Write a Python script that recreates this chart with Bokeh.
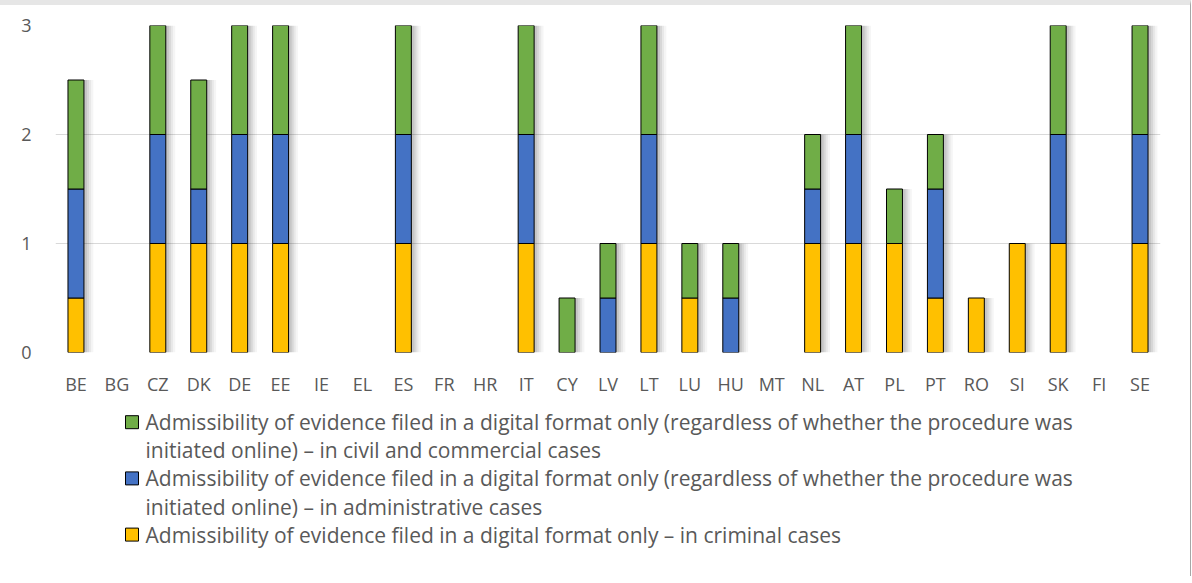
from bokeh.plotting import figure
from bokeh.layouts import column
from bokeh.models import ColumnDataSource, Range1d, FactorRange, SingleIntervalTicker
from bokeh.transform import dodge
from bokeh.core.properties import value
from bokeh.embed import file_html
from bokeh.resources import INLINE

countries = ["BE", "BG", "CZ", "DK", "DE", "EE", "IE", "EL", "ES", "FR", "HR", "IT", "CY", "LV",
             "LT", "LU", "HU", "MT", "NL", "AT", "PL", "PT", "RO", "SI", "SK", "FI", "SE"]
criminal =       [0.5, 0, 1, 1,   1, 1, 0, 0, 1, 0, 0, 1, 0,   0,   1, 0.5, 0,   0, 1,   1, 1,   0.5, 0.5, 1, 1, 0, 1]
administrative = [1,   0, 1, 0.5, 1, 1, 0, 0, 1, 0, 0, 1, 0,   0.5, 1, 0,   0.5, 0, 0.5, 1, 0,   1,   0,   0, 1, 0, 1]
civil =          [1,   0, 1, 1,   1, 1, 0, 0, 1, 0, 0, 1, 0.5, 0.5, 1, 0.5, 0.5, 0, 0.5, 1, 0.5, 0.5, 0,   0, 1, 0, 1]

series_labels = [
    ["Admissibility of evidence filed in a digital format only (regardless of whether the procedure was",
     "initiated online) \u2013 in civil and commercial cases"],
    ["Admissibility of evidence filed in a digital format only (regardless of whether the procedure was",
     "initiated online) \u2013 in administrative cases"],
    ["Admissibility of evidence filed in a digital format only \u2013 in criminal cases"],
]
colors = {"civil": "#70AD47", "admin": "#4472C4", "crim": "#FFC000"}

FONT = "Open Sans"
TXT = "#595959"
W = 1190
FL, FR = 55, 1160  # frame left/right on page
BT = 5  # top border of the chart box

p = figure(x_range=FactorRange(*countries, range_padding=0), y_range=Range1d(0, 3),
           width=W, height=400 - BT, output_backend="svg", toolbar_location=None,
           min_border_left=FL, min_border_right=W - FR, min_border_top=25 - BT, min_border_bottom=48)
p.outline_line_color = None
p.xgrid.grid_line_color = None
p.ygrid.grid_line_color = "#D9D9D9"
p.ygrid.grid_line_width = 1
p.yaxis.ticker = SingleIntervalTicker(interval=1)
for ax in (p.xaxis[0], p.yaxis[0]):
    ax.axis_line_color = None
    ax.major_tick_line_color = None
    ax.minor_tick_line_color = None
    ax.major_label_text_font = FONT
    ax.major_label_text_font_size = "18px"
    ax.major_label_text_color = TXT
p.xaxis.major_label_standoff = 13
p.yaxis.major_label_standoff = 18

# build segments
totals = [c + a + g for c, a, g in zip(criminal, administrative, civil)]
shadow = {"x": [], "top": []}
for cat, t in zip(countries, totals):
    if t > 0:
        shadow["x"].append(cat)
        shadow["top"].append(t)
for off, alpha, extra in [(0.16, 0.04, 0.14), (0.13, 0.05, 0.09), (0.10, 0.07, 0.05), (0.07, 0.08, 0.01)]:
    p.vbar(x=dodge("x", off, range=p.x_range), top="top", bottom=0, width=0.39 + extra,
           source=ColumnDataSource(shadow), fill_color="black", fill_alpha=alpha, line_color=None)

bottom = [0.0] * len(countries)
for key, vals in [("crim", criminal), ("admin", administrative), ("civil", civil)]:
    xs, bs, ts = [], [], []
    for i, v in enumerate(vals):
        if v > 0:
            xs.append(countries[i])
            bs.append(bottom[i])
            ts.append(bottom[i] + v)
        bottom[i] += v
    p.vbar(x="x", bottom="b", top="t", width=0.39, source=ColumnDataSource(dict(x=xs, b=bs, t=ts)),
           fill_color=colors[key], line_color="black", line_width=1)

# legend figure (its frame is aligned with the chart's frame: FL..FR)
LH = 176
lg = figure(x_range=Range1d(0, FR - FL), y_range=Range1d(LH, 0), width=W, height=LH,
            output_backend="svg", toolbar_location=None,
            min_border_left=FL, min_border_right=W - FR, min_border_top=0, min_border_bottom=0)
lg.axis.visible = False
lg.grid.visible = False
lg.outline_line_color = None

row_y = 21.7
sq = {"x": [], "y": [], "c": []}
tx = {"x": [], "y": [], "t": []}
for key, lines in zip(["civil", "admin", "crim"], series_labels):
    sq["x"].append(131.5 - FL)
    sq["y"].append(row_y)
    sq["c"].append(colors[key])
    for ln in lines:
        tx["x"].append(145 - FL)
        tx["y"].append(row_y)
        tx["t"].append(ln)
        row_y += 28.1
lg.rect(x="x", y="y", width=13, height=13, source=ColumnDataSource(sq), fill_color="c",
        line_color="black", line_width=1)
lg.text(x="x", y="y", text="t", source=ColumnDataSource(tx), text_font=value(FONT),
        text_font_size="21px", text_color=TXT, text_baseline="middle", text_align="left")

layout = column(p, lg, spacing=0)
layout.styles = {"border-top": f"{BT}px solid #E6E6E6", "border-right": "1px solid #A6A6A6"}
open("out.html", "w").write(file_html(layout, INLINE))
